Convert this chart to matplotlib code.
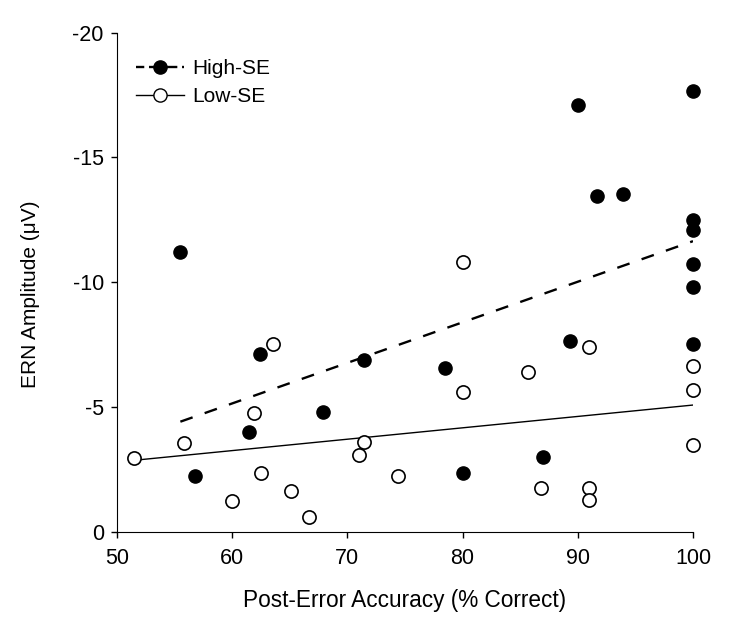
import numpy as np
import matplotlib
matplotlib.use('Agg')
import matplotlib.pyplot as plt
from matplotlib.lines import Line2D

plt.rcParams['font.family'] = ['Liberation Sans', 'DejaVu Sans']
plt.rcParams['axes.unicode_minus'] = False

# High-SE (filled circles)
high_acc = [55.5, 56.8, 61.5, 62.4, 67.9, 71.4, 78.5, 80.0, 87.0, 89.3,
            90.0, 91.7, 93.9, 100, 100, 100, 100, 100, 100]
high_ern = [-11.2, -2.25, -4.0, -7.15, -4.8, -6.9, -6.55, -2.35, -3.0, -7.65,
            -17.1, -13.45, -13.55, -17.65, -12.5, -12.1, -10.75, -9.8, -7.55]

# Low-SE (open circles)
low_acc = [51.5, 55.8, 60.0, 61.9, 62.5, 63.5, 65.1, 66.7, 71.0, 71.4,
           74.4, 80.0, 80.0, 85.7, 91.0, 86.8, 91.0, 91.0, 100, 100, 100]
low_ern = [-2.95, -3.55, -1.25, -4.75, -2.35, -7.55, -1.65, -0.6, -3.1, -3.6,
           -2.25, -10.8, -5.6, -6.4, -7.4, -1.75, -1.75, -1.3, -6.65, -5.7, -3.5]

fig = plt.figure(figsize=(7.5, 6.26), dpi=100)
ax = fig.add_axes([0.156, 0.150, 0.768, 0.798])

dash = (0, (5.5, 5.4))

# regression lines
for xs, ys, ls, lw in [(high_acc, high_ern, dash, 1.7), (low_acc, low_ern, '-', 1.0)]:
    k, b = np.polyfit(xs, ys, 1)
    xx = np.array([min(xs), max(xs)])
    ax.plot(xx, k * xx + b, color='black', linestyle=ls, linewidth=lw, zorder=2)

ax.plot(low_acc, low_ern, 'o', mfc='white', mec='black', mew=1.2, ms=9.5,
        linestyle='none', clip_on=False, zorder=3)
ax.plot(high_acc, high_ern, 'o', mfc='black', mec='black', ms=9.5,
        linestyle='none', clip_on=False, zorder=4)

ax.set_xlim(50, 100)
ax.set_ylim(0, -20)
ax.set_xticks([50, 60, 70, 80, 90, 100])
ax.set_yticks([0, -5, -10, -15, -20])
ax.spines['top'].set_visible(False)
ax.spines['right'].set_visible(False)
ax.tick_params(direction='out', length=4.5, width=1, labelsize=15.5)
ax.tick_params(axis='x', pad=7)
ax.tick_params(axis='y', pad=5)
ax.set_xlabel('Post-Error Accuracy (% Correct)', fontsize=16.3)
ax.set_ylabel('ERN Amplitude (\u03bcV)', fontsize=15)
ax.xaxis.set_label_coords(0.5, -0.136)
ax.yaxis.set_label_coords(-0.15, 0.476)
ax.xaxis.label.set_va('center')
ax.yaxis.label.set_va('center')

handles = [Line2D([], [], color='black', linestyle=(1.5, (5, 2)), linewidth=1.7,
                  marker='o', mfc='black', ms=9.5),
           Line2D([], [], color='black', linestyle='-', linewidth=1,
                  marker='o', mfc='white', mec='black', ms=9.5)]
ax.legend(handles, ['High-SE', 'Low-SE'], loc='upper left', frameon=False,
          fontsize=15, bbox_to_anchor=(0.0, 0.985), handlelength=2.3,
          handletextpad=0.4, labelspacing=0.45)

fig.savefig('out.png', dpi=100)
